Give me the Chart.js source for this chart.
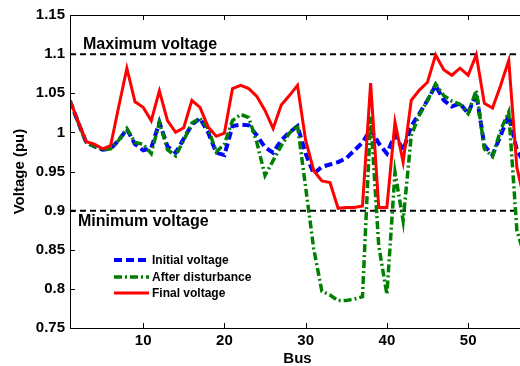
<!DOCTYPE html>
<html><head><meta charset="utf-8">
<script src="https://cdn.jsdelivr.net/npm/chart.js@4/dist/chart.umd.min.js"></script>
<style>
html,body{margin:0;padding:0;overflow:hidden;background:#fff;width:520px;height:366px}
#wrap{width:526px;height:366px}
</style>
</head><body><div id="wrap"><canvas id="c" width="526" height="366"></canvas></div>
<script>
const buses = [1,2,3,4,5,6,7,8,9,10,11,12,13,14,15,16,17,18,19,20,21,22,23,24,25,26,27,28,29,30,31,32,33,34,35,36,37,38,39,40,41,42,43,44,45,46,47,48,49,50,51,52,53,54,55,56,57];
const initialVoltage = [1.04,1.013,0.987,0.982,0.978,0.979,0.99,1.004,0.985,0.977,0.98,1.013,0.982,0.974,0.992,1.01,1.018,1.0,0.974,0.971,1.008,1.01,1.009,0.996,0.981,0.974,0.99,1.0,1.008,0.973,0.947,0.956,0.959,0.962,0.967,0.977,0.987,1.004,0.986,0.973,0.997,0.977,1.008,1.024,1.041,1.06,1.041,1.033,1.037,1.024,1.05,0.983,0.971,0.996,1.022,0.977,0.96];
const afterDisturbance = [1.04,1.013,0.987,0.982,0.978,0.979,0.99,1.005,0.987,0.985,0.973,1.013,0.978,0.97,0.99,1.012,1.018,1.005,0.975,0.985,1.015,1.023,1.019,0.987,0.945,0.964,0.983,0.999,1.009,0.93,0.851,0.797,0.792,0.785,0.785,0.787,0.79,1.02,0.855,0.793,0.949,0.887,0.996,1.022,1.041,1.062,1.047,1.04,1.036,1.024,1.054,0.979,0.969,1.003,1.026,0.875,0.84];
const finalVoltage = [1.041,1.014,0.988,0.985,0.979,0.983,1.033,1.082,1.039,1.032,1.015,1.053,1.015,1.0,1.006,1.041,1.032,1.007,0.995,0.999,1.056,1.06,1.056,1.046,1.028,1.005,1.035,1.047,1.06,0.99,0.951,0.938,0.936,0.903,0.904,0.904,0.906,1.063,0.904,0.904,1.013,0.962,1.041,1.054,1.064,1.099,1.08,1.073,1.082,1.073,1.099,1.037,1.031,1.06,1.092,0.955,0.91];
const maxVoltage = 1.1;
const minVoltage = 0.9;
const xTickValues = [10,20,30,40,50];
const yTickValues = [0.75,0.8,0.85,0.9,0.95,1.0,1.05,1.1,1.15];
const seriesLabels = ['Initial voltage','After disturbance','Final voltage'];

const FONT = "'Liberation Sans', Arial, sans-serif";
const pts = arr => buses.map((b,i)=>({x:b,y:arr[i]}));
const limitPts = v => [{x:buses[0],y:v},{x:buses[buses.length-1],y:v}];

const boxPlugin = {
  id:'box',
  afterDatasetsDraw(chart){
    const {ctx, chartArea:a, scales:{x,y}} = chart;
    ctx.save();
    ctx.strokeStyle='#000'; ctx.lineWidth=1;
    ctx.strokeRect(Math.round(a.left)+0.5, Math.round(a.top)+0.5, Math.round(a.right-a.left)-1, Math.round(a.bottom-a.top));
    const L=5;
    ctx.beginPath();
    xTickValues.forEach(v=>{const px=Math.round(x.getPixelForValue(v))+0.5;
      ctx.moveTo(px,a.bottom); ctx.lineTo(px,a.bottom-L);
      ctx.moveTo(px,a.top); ctx.lineTo(px,a.top+L);});
    yTickValues.forEach(v=>{const py=Math.round(y.getPixelForValue(v))+0.5;
      ctx.moveTo(a.left,py); ctx.lineTo(a.left+L,py);
      ctx.moveTo(a.right,py); ctx.lineTo(a.right-L,py);});
    ctx.stroke();
    // annotations
    ctx.fillStyle='#000';
    ctx.font="bold 16px "+FONT;
    ctx.textBaseline='alphabetic'; ctx.textAlign='left';
    ctx.fillText('Maximum voltage', a.left+13, y.getPixelForValue(maxVoltage)-5);
    ctx.fillText('Minimum voltage', a.left+8, y.getPixelForValue(minVoltage)+15);
    // legend
    const rows=[260,277,293];
    ctx.font="bold 12px "+FONT;
    ctx.textBaseline='middle';
    [0,1,2].forEach((di,k)=>{
      const ds=chart.data.datasets[di];
      ctx.save();
      ctx.strokeStyle=ds.borderColor; ctx.lineWidth=ds.borderWidth;
      ctx.setLineDash(ds.borderDash||[]);
      ctx.beginPath(); ctx.moveTo(114,rows[k]); ctx.lineTo(149,rows[k]); ctx.stroke();
      ctx.restore();
      ctx.fillStyle='#000';
      ctx.fillText(ds.label,152,rows[k]+0.5);
    });
    ctx.restore();
  }
};

new Chart(document.getElementById('c'),{
  type:'line',
  data:{datasets:[
    {label:seriesLabels[0],data:pts(initialVoltage),borderColor:'#0000ff',borderWidth:4,borderDash:[8,4],pointRadius:0,order:3},
    {label:seriesLabels[1],data:pts(afterDisturbance),borderColor:'#008000',borderWidth:3.5,borderDash:[8,3,2,3],pointRadius:0,order:2},
    {label:seriesLabels[2],data:pts(finalVoltage),borderColor:'#ff0000',borderWidth:3,pointRadius:0,order:1},
    {label:'max',data:limitPts(maxVoltage),borderColor:'#000',borderWidth:2,borderDash:[6,4],pointRadius:0,order:4},
    {label:'min',data:limitPts(minVoltage),borderColor:'#000',borderWidth:2,borderDash:[6,4],pointRadius:0,order:4}
  ]},
  options:{
    responsive:false, animation:false, devicePixelRatio:1,
    layout:{padding:{top:15,right:1,left:0,bottom:0}},
    plugins:{legend:{display:false},tooltip:{enabled:false}},
    elements:{line:{tension:0,borderCapStyle:'butt',borderJoinStyle:'miter'}},
    scales:{
      x:{type:'linear',min:1,max:57,
        afterBuildTicks:s=>{s.ticks=xTickValues.map(v=>({value:v}));},
        afterFit:s=>{s.height=38;},
        grid:{display:false,drawTicks:false},border:{display:false},
        ticks:{font:{family:FONT,weight:'bold',size:15},color:'#000',padding:4,maxRotation:0,autoSkip:false},
        title:{display:true,text:'Bus',color:'#000',font:{family:FONT,weight:'bold',size:15,lineHeight:1},padding:{top:0,bottom:0}}
      },
      y:{type:'linear',min:0.75,max:1.15,
        afterBuildTicks:s=>{s.ticks=yTickValues.map(v=>({value:v}));},
        afterFit:s=>{s.width=70;},
        grid:{display:false,drawTicks:false},border:{display:false},
        ticks:{font:{family:FONT,weight:'bold',size:15},color:'#000',padding:5,autoSkip:false,
          callback:v=>String(+(+v).toFixed(2))},
        title:{display:true,text:'Voltage (pu)',color:'#000',font:{family:FONT,weight:'bold',size:15,lineHeight:1.2},padding:{top:11,bottom:0}}
      }
    }
  },
  plugins:[boxPlugin]
});
</script>
</body></html>
